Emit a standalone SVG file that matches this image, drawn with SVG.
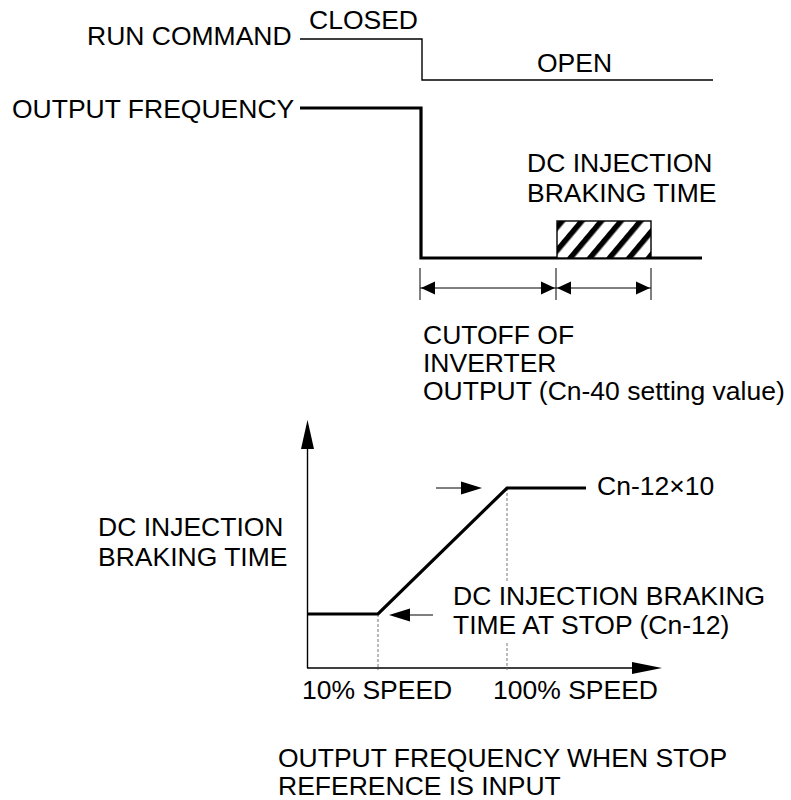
<svg xmlns="http://www.w3.org/2000/svg" width="791" height="800" viewBox="0 0 791 800">
<style>
text{font-family:"Liberation Sans",Arial,sans-serif;font-size:26.5px;fill:#000}
.thin{stroke:#000;stroke-width:1.4;fill:none}
.thick{stroke:#000;stroke-width:3.2;fill:none}
.dim{stroke:#000;stroke-width:1;fill:none}
.dash{stroke:#777;stroke-width:1;stroke-dasharray:3 2;fill:none}
.ah{fill:#000}
</style>
<defs>
<pattern id="hatch" patternUnits="userSpaceOnUse" width="15" height="15" patternTransform="rotate(40)">
<rect x="0" y="0" width="15" height="15" fill="#fff"/>
<rect x="0" y="0" width="5.5" height="15" fill="#000"/>
</pattern>
</defs>
<g id="labels">
<text x="87" y="45">RUN COMMAND</text>
<text x="309" y="29">CLOSED</text>
<text x="537" y="72">OPEN</text>
<text x="12" y="118">OUTPUT FREQUENCY</text>
<text x="527" y="172">DC INJECTION</text>
<text x="527" y="202">BRAKING TIME</text>
<text x="423" y="344">CUTOFF OF</text>
<text x="423" y="372">INVERTER</text>
<text x="423" y="400">OUTPUT (Cn-40 setting value)</text>
<text x="597" y="495">Cn-12×10</text>
<text x="98" y="536">DC INJECTION</text>
<text x="98" y="566">BRAKING TIME</text>
<text x="453" y="605">DC INJECTION BRAKING</text>
<text x="453" y="634">TIME AT STOP (Cn-12)</text>
<text x="302" y="699">10% SPEED</text>
<text x="493" y="699">100% SPEED</text>
<text x="278" y="767">OUTPUT FREQUENCY WHEN STOP</text>
<text x="278" y="795">REFERENCE IS INPUT</text>
</g>
<g id="timing">
<polyline class="thin" points="300,39 422,39 422,80 713,80"/>
<polyline class="thick" points="300,108 421,108 421,258 702,258"/>
<rect id="hatchbox" x="557" y="221" width="94" height="37" fill="url(#hatch)" stroke="#000" stroke-width="1.4"/>
</g>
<g id="connectors">
<line class="dim" x1="420" y1="268" x2="420" y2="300"/>
<line class="dim" x1="556" y1="268" x2="556" y2="300"/>
<line class="dim" x1="651" y1="268" x2="651" y2="300"/>
<line class="dim" x1="420" y1="288" x2="651" y2="288"/>
<polygon class="ah" points="421,288 435,281.5 435,294.5"/>
<polygon class="ah" points="555,288 541,281.5 541,294.5"/>
<polygon class="ah" points="557,288 571,281.5 571,294.5"/>
<polygon class="ah" points="650,288 636,281.5 636,294.5"/>
<line class="thin" x1="307.5" y1="445" x2="307.5" y2="668"/>
<polygon class="ah" points="307.5,420 301,449 314,449"/>
<line class="thin" x1="307" y1="668" x2="640" y2="668"/>
<polygon class="ah" points="662,668 632,662 632,674"/>
<line class="dash" x1="378" y1="614" x2="378" y2="670"/>
<line class="dash" x1="507" y1="488" x2="507" y2="581"/>
<line class="dash" x1="507" y1="643" x2="507" y2="670"/>
<polyline class="thick" points="307,614 378,614 507,488 586,488"/>
<line class="dim" x1="436" y1="488" x2="465" y2="488"/>
<polygon class="ah" points="482,488 461,481.5 461,494.5"/>
<line class="dim" x1="405" y1="615" x2="433" y2="615"/>
<polygon class="ah" points="389,615 410,608.5 410,621.5"/>
</g>
</svg>
